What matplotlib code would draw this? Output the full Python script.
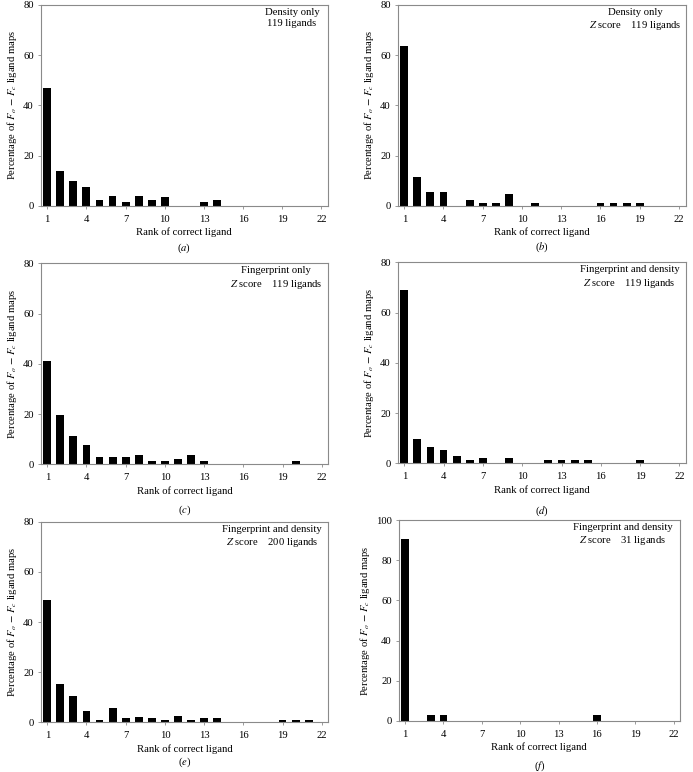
import numpy as np
import matplotlib
matplotlib.use("Agg")
import matplotlib.pyplot as plt

plt.rcParams['font.family'] = ['Liberation Serif', 'DejaVu Serif']
plt.rcParams['mathtext.fontset'] = 'stix'
plt.rcParams['font.size'] = 7.7

# rank of correct ligand, 1..22
ranks = np.arange(1, 23)
xticks = [1, 4, 7, 10, 13, 16, 19, 22]

# percentage of maps per rank
pct_a = [47.1, 13.9, 9.7, 7.4, 2.1, 3.9, 1.3, 3.9, 2.1, 3.3, 0, 0, 1.3, 2.1, 0, 0, 0, 0, 0, 0, 0, 0]
pct_b = [63.8, 11.6, 5.5, 5.5, 0, 2.1, 1.2, 1.2, 4.7, 0, 1.2, 0, 0, 0, 0, 1.2, 1.2, 1.2, 1.2, 0, 0, 0]
pct_c = [41.2, 19.6, 11.4, 7.8, 3.1, 3.1, 3.1, 3.9, 1.3, 1.3, 2.1, 3.9, 1.3, 0, 0, 0, 0, 0, 0, 1.3, 0, 0]
pct_d = [68.8, 9.6, 6.4, 5.3, 3.1, 1.2, 2.0, 0, 2.0, 0, 0, 1.2, 1.2, 1.2, 1.2, 0, 0, 0, 1.2, 0, 0, 0]
pct_e = [48.8, 15.4, 10.5, 4.5, 1.0, 5.6, 1.6, 2.2, 1.6, 1.0, 2.6, 1.0, 1.6, 1.6, 0, 0, 0, 0, 1.0, 1.0, 1.0, 0]
pct_f = [90.3, 0, 3.2, 3.2, 0, 0, 0, 0, 0, 0, 0, 0, 0, 0, 0, 3.2, 0, 0, 0, 0, 0, 0]

titles = ["Density only\n119 ligands",
          "Density only\n$Z$ score    119 ligands",
          "Fingerprint only\n$Z$ score    119 ligands",
          "Fingerprint and density\n$Z$ score    119 ligands",
          "Fingerprint and density\n$Z$ score    200 ligands",
          "Fingerprint and density\n$Z$ score    31 ligands"]
letters = ['a', 'b', 'c', 'd', 'e', 'f']
ymaxes = [80, 80, 80, 80, 80, 100]

W, H = 693, 772
# axes boxes in pixels: left, top, right, bottom
boxes = [(40.7, 5, 328, 205.7), (397.7, 5, 685.5, 205.7),
         (40.7, 263.3, 328.3, 464.3), (397.7, 262.3, 686, 463.3),
         (40.7, 521.7, 328.3, 722.3), (398.7, 520, 680, 721)]
# text centre x (px) and caption y (px)
txt_x = [292, 635, 276, 629.5, 272, 623]
cap_y = [248, 247, 510, 511.5, 762, 766]

fig = plt.figure(figsize=(W / 100, H / 100), dpi=100)
data = [pct_a, pct_b, pct_c, pct_d, pct_e, pct_f]
grey = '#8a8a8a'

for i in range(6):
    l, t, r, b = boxes[i]
    ax = fig.add_axes([l / W, 1 - b / H, (r - l) / W, (b - t) / H])
    ax.bar(ranks, data[i], width=0.6, color='black', edgecolor='none')
    ax.set_xlim(0.5, 22.5)
    ax.set_ylim(0, ymaxes[i])
    ax.set_yticks(np.arange(0, ymaxes[i] + 1, 20))
    ax.set_xticks(xticks)
    for s in ax.spines.values():
        s.set_color(grey)
        s.set_linewidth(0.8)
    ax.tick_params(axis='both', color=grey, length=2.5, width=0.6, labelsize=7.7)
    ax.tick_params(axis='x', pad=4)
    ax.tick_params(axis='y', pad=2.5)
    ax.set_xlabel("Rank of correct ligand", fontsize=7.7, labelpad=2.5)
    ax.set_ylabel("Percentage of $F_o$ $-$ $F_c$ ligand maps", fontsize=7.7, labelpad=3)
    # annotation in the top right
    fx = (txt_x[i] - l) / (r - l)
    ax.text(fx, 0.985, titles[i], transform=ax.transAxes, ha='center', va='top',
            multialignment='center', fontsize=7.7, linespacing=1.25)
    fig.text((l + r) / 2 / W, 1 - cap_y[i] / H, "($%s$)" % letters[i],
             ha='center', va='center', fontsize=7.7)

fig.savefig("out.png", dpi=100)
